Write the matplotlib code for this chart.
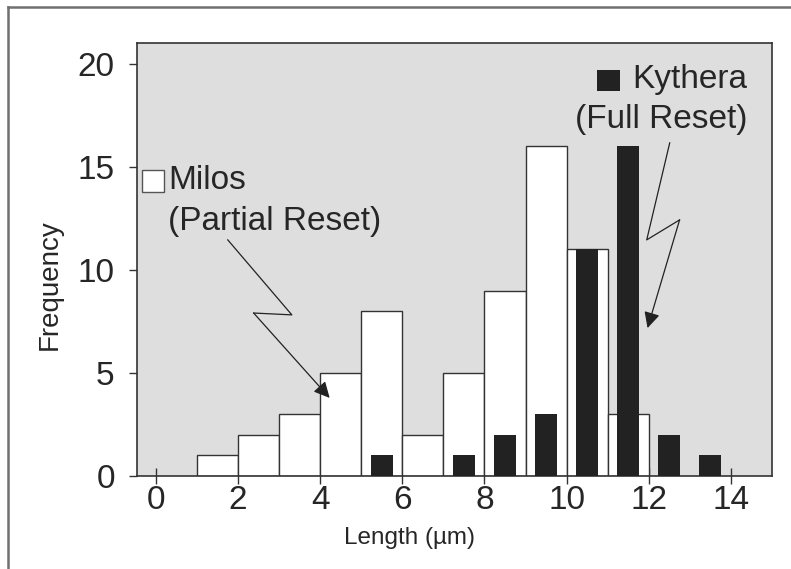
import matplotlib
matplotlib.use("Agg")
import matplotlib.pyplot as plt
from matplotlib.patches import Rectangle
from matplotlib.lines import Line2D

plt.rcParams['font.family'] = ['Liberation Sans', 'DejaVu Sans']

# Milos (partial reset) - white histogram, 1 um bins
milos_left = [1, 2, 3, 4, 5, 6, 7, 8, 9, 10, 11]
milos_counts = [1, 2, 3, 5, 8, 2, 5, 9, 16, 11, 3]

# Kythera (full reset) - narrow black bars at bin centres
kythera_centers = [5.5, 7.5, 8.5, 9.5, 10.5, 11.5, 12.5, 13.5]
kythera_counts = [1, 1, 2, 3, 11, 16, 2, 1]

x_ticks = [0, 2, 4, 6, 8, 10, 12, 14]
y_ticks = [0, 5, 10, 15, 20]

# zig-zag leader lines (data coords)
milos_arrow_x = [1.75, 3.31, 2.38, 4.23]
milos_arrow_y = [11.46, 7.82, 7.91, 3.79]
kythera_arrow_x = [12.51, 11.95, 12.75, 11.97]
kythera_arrow_y = [16.17, 11.46, 12.43, 7.18]

txt = '#262626'
edge = '#333333'

fig = plt.figure(figsize=(7.91, 5.69), dpi=100)
ax = fig.add_axes([137 / 791, 1 - 476 / 569, 635 / 791, 433.3 / 569])
ax.set_facecolor('#dedede')

ax.bar(milos_left, milos_counts, width=1, align='edge', facecolor='white',
       edgecolor=edge, linewidth=1.0, zorder=2)
ax.bar(kythera_centers, kythera_counts, width=0.54, color='#222222',
       linewidth=0, zorder=3)

ax.set_xlim(-0.46, 15.0)
ax.set_ylim(0, 21.03)
ax.set_xticks(x_ticks)
ax.set_yticks(y_ticks)
ax.tick_params(axis='x', direction='inout', length=11, width=1, colors=edge,
               labelcolor=txt, labelsize=24, pad=1)
ax.tick_params(axis='y', direction='out', length=6, width=1, colors=edge,
               labelcolor=txt, labelsize=24, pad=10)
for s in ax.spines.values():
    s.set_color(edge)
    s.set_linewidth(1.2)

ax.set_xlabel('Length (µm)', fontsize=17.5, color=txt)
ax.xaxis.set_label_coords((410 - 137) / 635, -(538 - 476) / 433.3)
ax.xaxis.label.set_va('center')
ax.set_ylabel('Frequency', fontsize=20, color=txt)
ax.yaxis.set_label_coords(-(137 - 50) / 635, (476 - 285) / 433.3)
ax.yaxis.label.set_va('center')

# leader lines with arrow heads
for xs, ys in [(milos_arrow_x, milos_arrow_y), (kythera_arrow_x, kythera_arrow_y)]:
    ax.plot(xs[:3], ys[:3], color='#222222', lw=0.9, zorder=5)
    ax.annotate('', xy=(xs[3], ys[3]), xytext=(xs[2], ys[2]),
                arrowprops=dict(arrowstyle='-|>', color='#222222', lw=0.9,
                                mutation_scale=24, shrinkA=0, shrinkB=0),
                zorder=5)

# legend-like labels
ax.add_patch(Rectangle((-0.34, 13.79), 0.53, 1.06, facecolor='white',
                       edgecolor='#555555', lw=1.0, clip_on=False, zorder=6))
ax.text(0.29, 14.32, 'Milos', fontsize=24, color=txt, va='center', ha='left')
ax.text(0.29, 12.33, '(Partial Reset)', fontsize=24, color=txt, va='center', ha='left')

ax.add_patch(Rectangle((10.75, 18.69), 0.56, 1.02, facecolor='#222222',
                       edgecolor='none', zorder=6))
ax.text(14.40, 19.22, 'Kythera', fontsize=24, color=txt, va='center', ha='right')
ax.text(14.40, 17.28, '(Full Reset)', fontsize=24, color=txt, va='center', ha='right')

# outer frame (top and left edges only visible)
fig.add_artist(Line2D([8 / 791, 1], [1 - 7 / 569, 1 - 7 / 569],
                      transform=fig.transFigure, color='#707070', lw=1.8))
fig.add_artist(Line2D([8 / 791, 8 / 791], [0, 1 - 7 / 569],
                      transform=fig.transFigure, color='#707070', lw=1.8))

fig.savefig('out.png', dpi=100, facecolor='white')
